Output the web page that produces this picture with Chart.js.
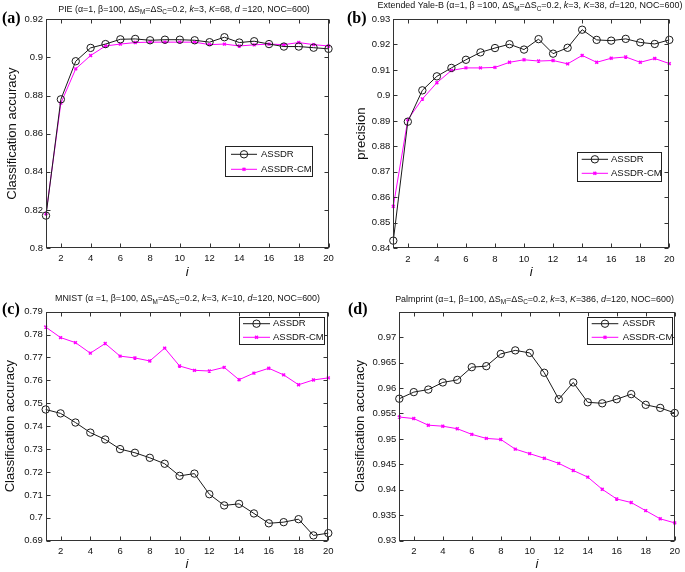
<!DOCTYPE html>
<html><head><meta charset="utf-8">
<script src="https://cdn.jsdelivr.net/npm/chart.js@4.4.1/dist/chart.umd.min.js"></script>
<style>
html,body{margin:0;padding:0;background:#fff;}
#wrap{position:relative;width:685px;height:572px;overflow:hidden;background:#fff;}
canvas{position:absolute;display:block;}
</style></head><body>
<div id="wrap">
<canvas id="ca" width="342" height="285" style="left:0;top:0;width:342px;height:285px"></canvas>
<canvas id="cb" width="343" height="285" style="left:342px;top:0;width:343px;height:285px"></canvas>
<canvas id="cc" width="342" height="287" style="left:0;top:285px;width:342px;height:287px"></canvas>
<canvas id="cd" width="343" height="287" style="left:342px;top:285px;width:343px;height:287px"></canvas>
</div>
<script>
// ---------- data ----------
const iValues = [1,2,3,4,5,6,7,8,9,10,11,12,13,14,15,16,17,18,19,20];
const xTickLabels = [2,4,6,8,10,12,14,16,18,20];

const pieASSDR = [0.817,0.878,0.898,0.905,0.907,0.9095,0.9097,0.909,0.9093,0.9093,0.909,0.908,0.9106,0.9078,0.9085,0.907,0.9057,0.9057,0.9051,0.9045];
const pieCM    = [0.818,0.876,0.894,0.901,0.906,0.907,0.9078,0.908,0.908,0.908,0.908,0.9067,0.907,0.906,0.9066,0.907,0.9067,0.9078,0.9067,0.906];
const pieYTicks = [0.8,0.82,0.84,0.86,0.88,0.9,0.92];

const yaleASSDR = [0.843,0.8897,0.902,0.9075,0.9108,0.914,0.9169,0.9186,0.9201,0.918,0.9221,0.9164,0.9187,0.9258,0.9218,0.9215,0.9222,0.9208,0.9202,0.9218];
const yaleCM    = [0.8565,0.8905,0.8986,0.905,0.9098,0.9108,0.9108,0.911,0.913,0.914,0.9135,0.9137,0.9124,0.9157,0.913,0.9146,0.9151,0.913,0.9145,0.9125];
const yaleYTicks = [0.84,0.85,0.86,0.87,0.88,0.89,0.9,0.91,0.92,0.93];

const mnistASSDR = [0.7473,0.7456,0.7416,0.7372,0.7342,0.730,0.7284,0.7262,0.7236,0.7183,0.7193,0.7103,0.7054,0.7061,0.7019,0.6976,0.6981,0.6994,0.6923,0.6933];
const mnistCM    = [0.7833,0.7787,0.7765,0.7719,0.7761,0.7706,0.7698,0.7685,0.7741,0.7663,0.7644,0.7641,0.7657,0.7603,0.7632,0.7653,0.7624,0.7581,0.7602,0.7611];
const mnistYTicks = [0.69,0.7,0.71,0.72,0.73,0.74,0.75,0.76,0.77,0.78,0.79];

const palmASSDR = [0.9579,0.9592,0.9597,0.9611,0.9616,0.9641,0.9643,0.9667,0.9674,0.9669,0.963,0.9578,0.9611,0.9572,0.957,0.9578,0.9588,0.9567,0.9561,0.9551];
const palmCM    = [0.9543,0.9540,0.9527,0.9525,0.952,0.9509,0.9501,0.9499,0.948,0.9471,0.9462,0.9452,0.9438,0.9425,0.9401,0.9382,0.9375,0.9359,0.9343,0.9335];
const palmYTicks = [0.93,0.935,0.94,0.945,0.95,0.955,0.96,0.965,0.97];

const seriesNames = ['ASSDR','ASSDR-CM'];

// ---------- drawing helpers ----------
const FAM = "'Liberation Sans', Arial, sans-serif";
Chart.defaults.font.family = FAM;
Chart.defaults.color = '#111';

function drawRich(ctx, segs, cx, cy, targetW){
  const base = 10;
  const fontFor = (type, s) => (type==='i' ? 'italic ' : '') + (type==='sub' ? (s*0.72).toFixed(2) : s.toFixed(2)) + 'px ' + FAM;
  let tot = 0;
  segs.forEach(([t,type])=>{ctx.font = fontFor(type, base); tot += ctx.measureText(t).width;});
  const s = base*targetW/tot;
  let w = 0;
  segs.forEach(([t,type])=>{ctx.font = fontFor(type, s); w += ctx.measureText(t).width;});
  let x = cx - w/2;
  ctx.textBaseline = 'middle'; ctx.textAlign = 'left'; ctx.fillStyle = '#111';
  segs.forEach(([t,type])=>{
    ctx.font = fontFor(type, s);
    ctx.fillText(t, x, cy + (type==='sub' ? s*0.38 : 0));
    x += ctx.measureText(t).width;
  });
}

const framePlugin = {
  id: 'frame',
  afterDatasetsDraw(chart, args, o){
    const ctx = chart.ctx, a = chart.chartArea;
    const xs = chart.scales.x, ys = chart.scales.y;
    const L = Math.round(a.left)+0.5, R = Math.round(a.right)-0.5, T = Math.round(a.top)+0.5, B = Math.round(a.bottom)-0.5;
    ctx.save();
    ctx.strokeStyle = '#333'; ctx.lineWidth = 1;
    ctx.strokeRect(L, T, R-L, B-T);
    ctx.beginPath();
    xs.ticks.forEach(t=>{
      const px = Math.round(xs.getPixelForValue(t.value))+0.5;
      ctx.moveTo(px, B); ctx.lineTo(px, B-4);
      ctx.moveTo(px, T); ctx.lineTo(px, T+4);
    });
    ys.ticks.forEach(t=>{
      const py = Math.round(ys.getPixelForValue(t.value))+0.5;
      ctx.moveTo(L, py); ctx.lineTo(L+4, py);
      ctx.moveTo(R, py); ctx.lineTo(R-4, py);
    });
    ctx.stroke();
    ctx.restore();
  },
  afterDraw(chart, args, o){
    const ctx = chart.ctx;
    ctx.save();
    drawRich(ctx, o.title, o.titleX, o.titleY, o.titleW);
    ctx.font = 'bold 16px "Liberation Serif", serif';
    ctx.fillStyle = '#000'; ctx.textBaseline = 'middle'; ctx.textAlign = 'left';
    ctx.fillText(o.label, o.labelX, o.labelY);
    const lg = o.legend;
    ctx.fillStyle = '#fff';
    ctx.fillRect(lg.x, lg.y, lg.w, lg.h);
    ctx.strokeStyle = '#222'; ctx.lineWidth = 1;
    ctx.strokeRect(Math.round(lg.x)+0.5, Math.round(lg.y)+0.5, Math.round(lg.w), Math.round(lg.h));
    chart.data.datasets.forEach((ds, i)=>{
      const y = lg.rows[i];
      ctx.strokeStyle = ds.borderColor; ctx.lineWidth = ds.borderWidth;
      ctx.beginPath(); ctx.moveTo(lg.lx1, y); ctx.lineTo(lg.lx2, y); ctx.stroke();
      ctx.fillStyle = ds.pointBackgroundColor;
      ctx.strokeStyle = ds.pointBorderColor;
      ctx.lineWidth = ds.pointBorderWidth;
      Chart.helpers.drawPoint(ctx, {pointStyle: ds.pointStyle, radius: ds.pointRadius, borderWidth: ds.pointBorderWidth, rotation: 0}, (lg.lx1+lg.lx2)/2, y);
      ctx.fillStyle = '#111'; ctx.font = '9.5px ' + FAM; ctx.textBaseline = 'middle'; ctx.textAlign = 'left';
      ctx.fillText(ds.label, lg.tx, y);
    });
    ctx.restore();
  }
};

function fmt(v){ return String(Number(Number(v).toFixed(4))); }

function makeChart(id, p){
  const canvas = document.getElementById(id);
  const W = canvas.width, H = canvas.height;
  const pts = arr => iValues.map((x, k) => ({x: x, y: arr[k]}));
  new Chart(canvas, {
    type: 'line',
    data: {
      datasets: [
        {label: seriesNames[0], data: pts(p.a), borderColor: '#1a1a1a', borderWidth: 1,
         pointStyle: 'circle', pointRadius: 3.7, pointBorderWidth: 1, pointBorderColor: '#1a1a1a',
         pointBackgroundColor: 'rgba(0,0,0,0)', tension: 0, clip: false},
        {label: seriesNames[1], data: pts(p.c), borderColor: '#ff00ff', borderWidth: 1,
         pointStyle: 'crossRot', pointRadius: 2, pointBorderWidth: 1.5, pointBorderColor: '#ff00ff',
         pointBackgroundColor: '#ff00ff', tension: 0, clip: false}
      ]
    },
    options: {
      responsive: false, animation: false,
      layout: {padding: {left: 0, top: p.area.t, right: W - p.area.r, bottom: 0}},
      plugins: {legend: {display: false}, tooltip: {enabled: false},
        frame: {title: p.title, titleX: p.titleX, titleY: p.titleY, titleW: p.titleW,
                label: p.label, labelX: p.labelX, labelY: p.labelY, legend: p.legend}},
      scales: {
        x: {type: 'linear', min: 1, max: 20,
            afterBuildTicks: s => { s.ticks = xTickLabels.map(v => ({value: v})); },
            afterFit: s => { s.height = H - p.area.b; },
            grid: {display: false, drawTicks: false}, border: {display: false},
            ticks: {font: {size: 9.5}, color: '#111', padding: 5, autoSkip: false, maxRotation: 0},
            title: {display: true, text: 'i', color: '#111', font: {size: 13, style: 'italic'}, padding: {top: 0, bottom: p.xTitlePad}}},
        y: {type: 'linear', min: p.yMin, max: p.yMax,
            afterBuildTicks: s => { s.ticks = p.yTicks.map(v => ({value: v})); },
            afterFit: s => { s.width = p.area.l; },
            grid: {display: false, drawTicks: false}, border: {display: false},
            ticks: {font: {size: 9.5}, color: '#111', padding: 3, autoSkip: false, callback: v => fmt(v)},
            title: {display: true, text: p.yTitle, color: '#111', font: {size: 13}, padding: {top: p.yTitlePad, bottom: 0}}}
      }
    },
    plugins: [framePlugin]
  });
}

const S = (t) => [t,'n'];
function titleSegs(name, a, b, K, dSpace){
  return [S(name + ' ('), S('α' + a + '1, '), S('β' + b + '100, ΔS'), ['M','sub'], S('=ΔS'), ['C','sub'], S('=0.2, '),
          ['k','i'], S('=3, '), ['K','i'], S('=' + K + ', '), ['d','i'], S((dSpace ? ' ' : '') + '=120, NOC=600)')];
}

makeChart('ca', {a: pieASSDR, c: pieCM, yMin: 0.8, yMax: 0.92, yTicks: pieYTicks, yTitle: 'Classification accuracy',
  area: {l: 46, r: 328.5, t: 19.3, b: 248}, yTitlePad: 4.5, xTitlePad: 4.5,
  title: titleSegs('PIE', '=', '=', '68', true), titleX: 184, titleY: 9.3, titleW: 252,
  label: '(a)', labelX: 2, labelY: 19,
  legend: {x: 225, y: 146, w: 87, h: 30, rows: [154.3, 169.3], lx1: 231, lx2: 257, tx: 261}});

makeChart('cb', {a: yaleASSDR, c: yaleCM, yMin: 0.84, yMax: 0.93, yTicks: yaleYTicks, yTitle: 'precision',
  area: {l: 51.3, r: 327.3, t: 19, b: 248.3}, yTitlePad: 11.8, xTitlePad: 5,
  title: titleSegs('Extended Yale-B', '=', ' =', '38', false), titleX: 188, titleY: 6, titleW: 305,
  label: '(b)', labelX: 5, labelY: 19,
  legend: {x: 234.7, y: 151.7, w: 84, h: 29, rows: [159.3, 173.3], lx1: 239.7, lx2: 266, tx: 269}});

makeChart('cc', {a: mnistASSDR, c: mnistCM, yMin: 0.69, yMax: 0.79, yTicks: mnistYTicks, yTitle: 'Classification accuracy',
  area: {l: 45.7, r: 328.3, t: 26.7, b: 255.7}, yTitlePad: 2.3, xTitlePad: 0,
  title: titleSegs('MNIST', ' =', '=', '10', false), titleX: 187.5, titleY: 14, titleW: 265,
  label: '(c)', labelX: 2, labelY: 25,
  legend: {x: 239, y: 31.7, w: 85, h: 27.3, rows: [38.7, 52.3], lx1: 243, lx2: 270, tx: 273}});

makeChart('cd', {a: palmASSDR, c: palmCM, yMin: 0.93, yMax: 0.975, yTicks: palmYTicks, yTitle: 'Classification accuracy',
  area: {l: 57.3, r: 333, t: 26.7, b: 255.7}, yTitlePad: 10.3, xTitlePad: 0,
  title: titleSegs('Palmprint', '=', '=', '386', false), titleX: 192.5, titleY: 14.3, titleW: 279,
  label: '(d)', labelX: 6, labelY: 25,
  legend: {x: 245.3, y: 31.7, w: 85.4, h: 27.3, rows: [38.7, 52.3], lx1: 249.7, lx2: 276.3, tx: 280.7}});
</script>
</body></html>
